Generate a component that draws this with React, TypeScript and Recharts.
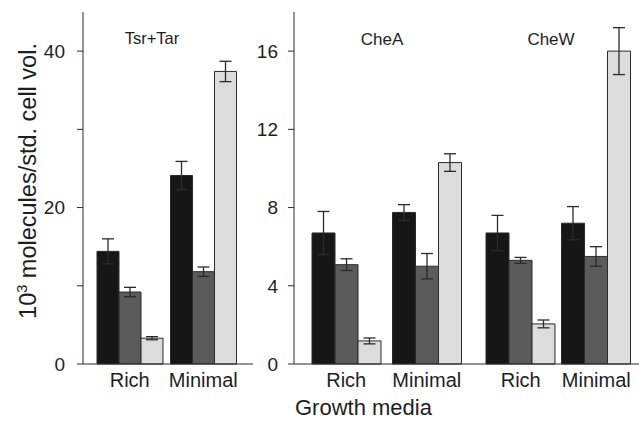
import React from 'react';
import { BarChart, Bar, XAxis, YAxis, ErrorBar } from 'recharts';

// growth media (x categories)
const media = ['Rich', 'Minimal'];

// Tsr+Tar, 10^3 molecules / std. cell vol.
const tsrBlack = [14.4, 24.1];
const tsrBlackErr = [1.6, 1.8];
const tsrGray = [9.2, 11.8];
const tsrGrayErr = [0.6, 0.6];
const tsrLight = [3.3, 37.4];
const tsrLightErr = [0.2, 1.3];

// CheA
const cheABlack = [6.7, 7.75];
const cheABlackErr = [1.1, 0.4];
const cheAGray = [5.08, 5.0];
const cheAGrayErr = [0.3, 0.65];
const cheALight = [1.18, 10.3];
const cheALightErr = [0.15, 0.45];

// CheW
const cheWBlack = [6.7, 7.2];
const cheWBlackErr = [0.9, 0.85];
const cheWGray = [5.3, 5.5];
const cheWGrayErr = [0.15, 0.5];
const cheWLight = [2.05, 16.0];
const cheWLightErr = [0.2, 1.2];

const leftTicks = [0, 10, 20, 30, 40];
const leftLabelled = [0, 20, 40];
const rightTicks = [0, 4, 8, 12, 16];

const rows = (b: number[], be: number[], g: number[], ge: number[], l: number[], le: number[]) =>
    media.map((m, i) => ({ medium: m, black: b[i], blackErr: be[i], gray: g[i], grayErr: ge[i], light: l[i], lightErr: le[i] }));

const tsrData = rows(tsrBlack, tsrBlackErr, tsrGray, tsrGrayErr, tsrLight, tsrLightErr);
const cheAData = rows(cheABlack, cheABlackErr, cheAGray, cheAGrayErr, cheALight, cheALightErr);
const cheWData = rows(cheWBlack, cheWBlackErr, cheWGray, cheWGrayErr, cheWLight, cheWLightErr);

const INK = '#2b2b2b';
const TEXT = '#1e1e1e';
const FONT = '"Liberation Sans", Arial, sans-serif';

function bars(size: number) {
    const common = { barSize: size, stroke: INK, strokeWidth: 1, isAnimationActive: false };
    const err = (key: string) => <ErrorBar dataKey={key} width={6} stroke={INK} strokeWidth={1.3} />;
    return [
        <Bar key="b" dataKey="black" fill="#161616" {...common}>{err('blackErr')}</Bar>,
        <Bar key="g" dataKey="gray" fill="#5b5b5b" {...common}>{err('grayErr')}</Bar>,
        <Bar key="l" dataKey="light" fill="#dcdcdc" {...common}>{err('lightErr')}</Bar>,
    ];
}

function frame(showRight: boolean) {
    const out = [
        <XAxis key="top" xAxisId="top" dataKey="medium" orientation="top" height={0} tick={false} tickLine={false} axisLine={{ stroke: INK }} />,
    ];
    if (showRight) {
        out.push(<YAxis key="r" yAxisId="r" orientation="right" width={0} domain={[0, 1]} tick={false} tickLine={false} axisLine={{ stroke: INK }} />);
    }
    return out;
}

const xTick = { fill: TEXT, fontSize: 20 };
const yTick = { fill: TEXT, fontSize: 19 };

// left axis: tick marks every 10, numbers only every 20
const LeftTick = (props: any) => {
    const { x, y, payload } = props;
    if (!leftLabelled.includes(payload.value)) return <g />;
    return (
        <text x={x} y={y} dy="0.355em" textAnchor="end" fill={TEXT} fontSize={19}>{payload.value}</text>
    );
};

export default function App() {
    return (
        <div style={{ position: 'fixed', left: 0, top: 0, width: 639, height: 422, overflow: 'hidden', background: '#fff', fontFamily: FONT, color: TEXT }}>
            {/* Tsr+Tar panel */}
            <div style={{ position: 'absolute', left: 0, top: 0 }}>
                <BarChart width={260} height={422} data={tsrData} barGap={0} margin={{ top: 12, right: 7, bottom: 28, left: 0 }}>
                    <XAxis dataKey="medium" interval={0} tick={xTick} tickLine={false} tickMargin={3} axisLine={{ stroke: INK }} padding={{ left: 10, right: 13 }} height={30} />
                    <YAxis width={83} domain={[0, 45]} ticks={leftTicks} tick={<LeftTick />} tickMargin={12} tickLine={{ stroke: INK }} axisLine={{ stroke: INK }} interval={0} />
                    {frame(true)}
                    {bars(22)}
                </BarChart>
            </div>

            {/* CheA panel (carries the right y axis) */}
            <div style={{ position: 'absolute', left: 240, top: 0 }}>
                <BarChart width={234} height={422} data={cheAData} barGap={0} margin={{ top: 12, right: 0, bottom: 28, left: 0 }}>
                    <XAxis dataKey="medium" interval={0} tick={xTick} tickLine={false} tickMargin={3} axisLine={{ stroke: INK }} padding={{ left: 12, right: 7 }} height={30} />
                    <YAxis width={54} domain={[0, 18]} ticks={rightTicks} tick={yTick} tickMargin={10} tickLine={{ stroke: INK }} axisLine={{ stroke: INK }} interval={0} />
                    {frame(false)}
                    {bars(23)}
                </BarChart>
            </div>

            {/* CheW panel */}
            <div style={{ position: 'absolute', left: 474, top: 0 }}>
                <BarChart width={174} height={422} data={cheWData} barGap={0} margin={{ top: 12, right: 0, bottom: 28, left: 0 }}>
                    <XAxis dataKey="medium" interval={0} tick={xTick} tickLine={false} tickMargin={3} axisLine={{ stroke: INK }} padding={{ left: 9, right: 14 }} height={30} />
                    <YAxis hide domain={[0, 18]} ticks={rightTicks} />
                    {frame(false)}
                    {bars(23)}
                </BarChart>
            </div>

            {/* panel titles */}
            <div style={{ position: 'absolute', left: 152, top: 30, transform: 'translateX(-50%)', fontSize: 16.5, lineHeight: 1, whiteSpace: 'nowrap' }}>Tsr+Tar</div>
            <div style={{ position: 'absolute', left: 382, top: 31, transform: 'translateX(-50%)', fontSize: 17, lineHeight: 1, whiteSpace: 'nowrap' }}>CheA</div>
            <div style={{ position: 'absolute', left: 551, top: 31, transform: 'translateX(-50%)', fontSize: 17, lineHeight: 1, whiteSpace: 'nowrap' }}>CheW</div>

            {/* y axis title */}
            <div style={{ position: 'absolute', left: 29, top: 181, transform: 'translate(-50%, -50%) rotate(-90deg)', fontSize: 23.5, lineHeight: 1, whiteSpace: 'nowrap' }}>
                10<span style={{ fontSize: '0.62em', position: 'relative', top: '-0.6em' }}>3</span> molecules/std. cell vol.
            </div>

            {/* x axis title */}
            <div style={{ position: 'absolute', left: 295, top: 398, fontSize: 22, lineHeight: 0.9, whiteSpace: 'nowrap' }}>Growth media</div>
        </div>
    );
}
